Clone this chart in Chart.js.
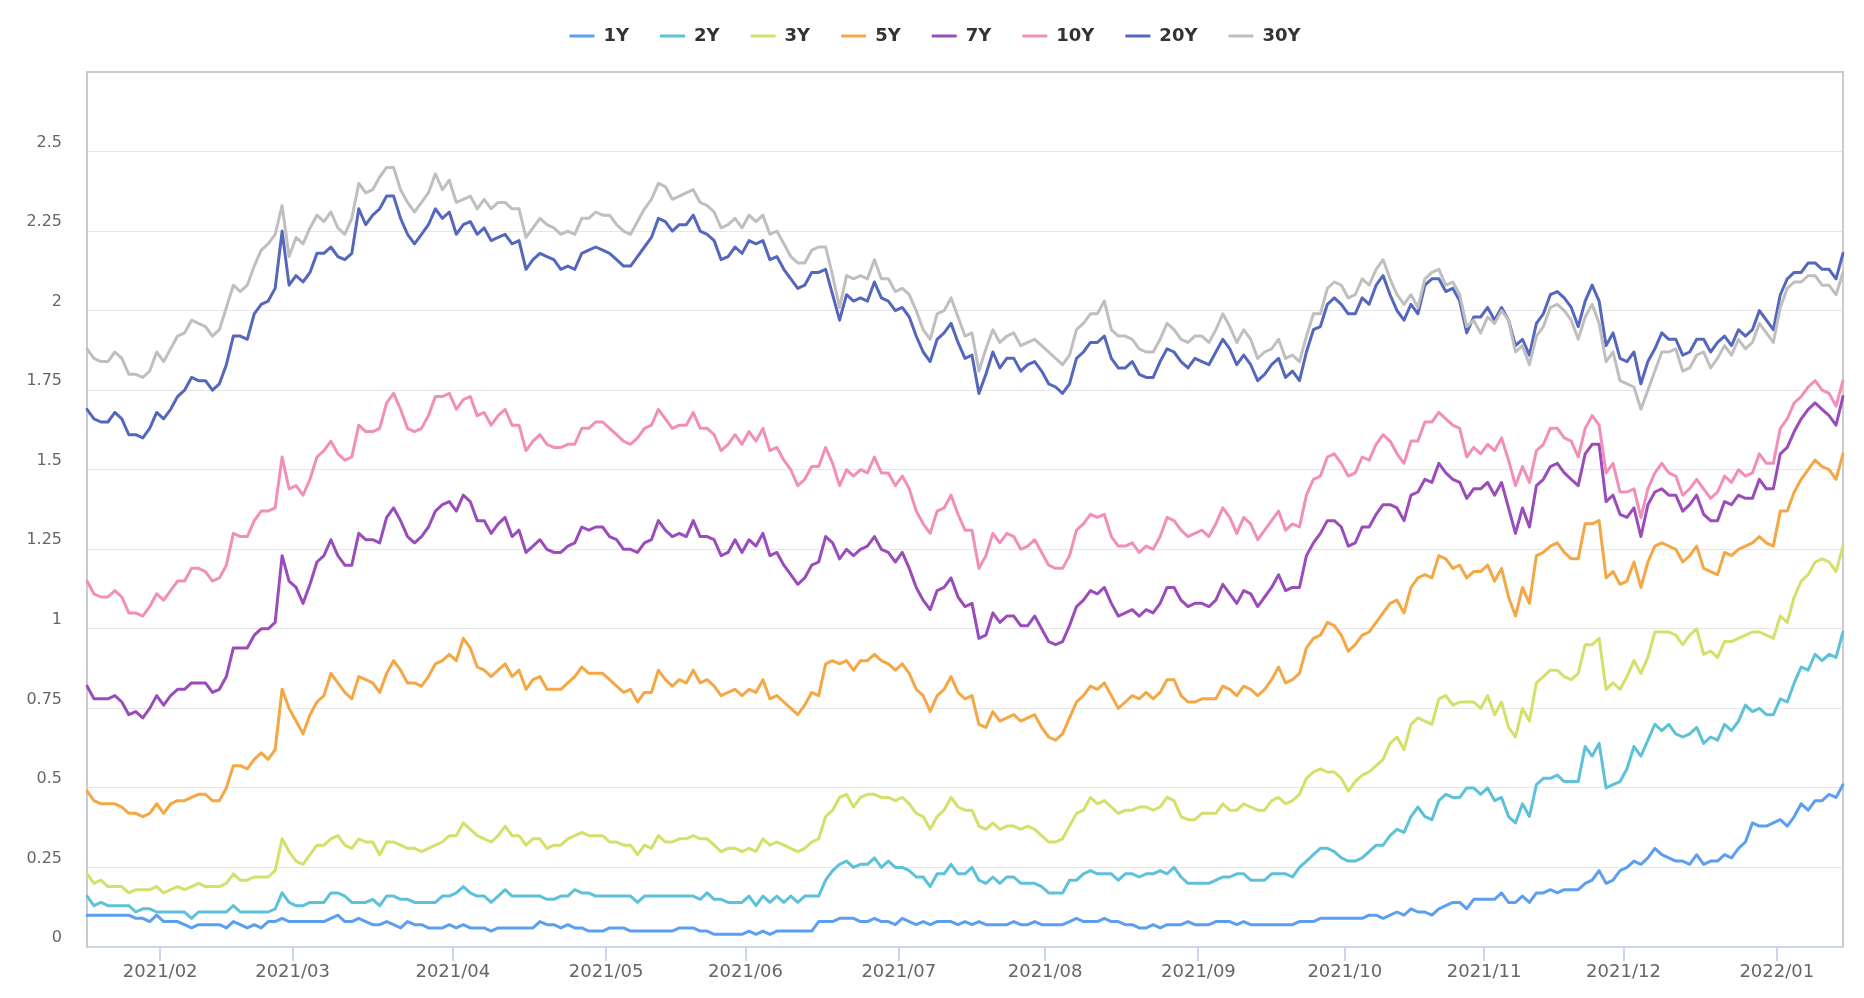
<!DOCTYPE html>
<html>
<head>
<meta charset="utf-8">
<title>Treasury yields</title>
<script src="https://cdn.jsdelivr.net/npm/chart.js@4.4.1/dist/chart.umd.min.js"></script>
<style>
    html, body { margin: 0; padding: 0; background: #ffffff; }
    canvas { display: block; }
</style>
</head>
<body>
<canvas id="yieldChart" width="1864" height="998"></canvas>
<script>
// trading days shown on the x axis (bond market calendar)
const firstDay = '2021-01-14';
const lastDay = '2022-01-14';
const marketHolidays = ['2021-01-18', '2021-02-15', '2021-05-31', '2021-07-05', '2021-09-06',
    '2021-10-11', '2021-11-11', '2021-11-25', '2021-12-24'];

const tenors = ['1Y', '2Y', '3Y', '5Y', '7Y', '10Y', '20Y', '30Y'];
const tenorColors = ['#5c9ff0', '#5cc1d9', '#d5e06a', '#f4a744', '#9b4cbb', '#f28fb9', '#5567bd', '#bfbfbf'];

const yields1Y = [
    0.10,0.10,0.10,0.10,0.10,0.10,0.10,0.09,0.09,0.08,
    0.10,0.08,0.08,0.08,0.07,0.06,0.07,0.07,0.07,0.07,
    0.06,0.08,0.07,0.06,0.07,0.06,0.08,0.08,0.09,0.08,
    0.08,0.08,0.08,0.08,0.08,0.09,0.10,0.08,0.08,0.09,
    0.08,0.07,0.07,0.08,0.07,0.06,0.08,0.07,0.07,0.06,
    0.06,0.06,0.07,0.06,0.07,0.06,0.06,0.06,0.05,0.06,
    0.06,0.06,0.06,0.06,0.06,0.08,0.07,0.07,0.06,0.07,
    0.06,0.06,0.05,0.05,0.05,0.06,0.06,0.06,0.05,0.05,
    0.05,0.05,0.05,0.05,0.05,0.06,0.06,0.06,0.05,0.05,
    0.04,0.04,0.04,0.04,0.04,0.05,0.04,0.05,0.04,0.05,
    0.05,0.05,0.05,0.05,0.05,0.08,0.08,0.08,0.09,0.09,
    0.09,0.08,0.08,0.09,0.08,0.08,0.07,0.09,0.08,0.07,
    0.08,0.07,0.08,0.08,0.08,0.07,0.08,0.07,0.08,0.07,
    0.07,0.07,0.07,0.08,0.07,0.07,0.08,0.07,0.07,0.07,
    0.07,0.08,0.09,0.08,0.08,0.08,0.09,0.08,0.08,0.07,
    0.07,0.06,0.06,0.07,0.06,0.07,0.07,0.07,0.08,0.07,
    0.07,0.07,0.08,0.08,0.08,0.07,0.08,0.07,0.07,0.07,
    0.07,0.07,0.07,0.07,0.08,0.08,0.08,0.09,0.09,0.09,
    0.09,0.09,0.09,0.09,0.10,0.10,0.09,0.10,0.11,0.10,
    0.12,0.11,0.11,0.10,0.12,0.13,0.14,0.14,0.12,0.15,
    0.15,0.15,0.15,0.17,0.14,0.14,0.16,0.14,0.17,0.17,
    0.18,0.17,0.18,0.18,0.18,0.20,0.21,0.24,0.20,0.21,
    0.24,0.25,0.27,0.26,0.28,0.31,0.29,0.28,0.27,0.27,
    0.26,0.29,0.26,0.27,0.27,0.29,0.28,0.31,0.33,0.39,
    0.38,0.38,0.39,0.40,0.38,0.41,0.45,0.43,0.46,0.46,
    0.48,0.47,0.51
];

const yields2Y = [
    0.16,0.13,0.14,0.13,0.13,0.13,0.13,0.11,0.12,0.12,
    0.11,0.11,0.11,0.11,0.11,0.09,0.11,0.11,0.11,0.11,
    0.11,0.13,0.11,0.11,0.11,0.11,0.11,0.12,0.17,0.14,
    0.13,0.13,0.14,0.14,0.14,0.17,0.17,0.16,0.14,0.14,
    0.14,0.15,0.13,0.16,0.16,0.15,0.15,0.14,0.14,0.14,
    0.14,0.16,0.16,0.17,0.19,0.17,0.16,0.16,0.14,0.16,
    0.18,0.16,0.16,0.16,0.16,0.16,0.15,0.15,0.16,0.16,
    0.18,0.17,0.17,0.16,0.16,0.16,0.16,0.16,0.16,0.14,
    0.16,0.16,0.16,0.16,0.16,0.16,0.16,0.16,0.15,0.17,
    0.15,0.15,0.14,0.14,0.14,0.16,0.13,0.16,0.14,0.16,
    0.14,0.16,0.14,0.16,0.16,0.16,0.21,0.24,0.26,0.27,
    0.25,0.26,0.26,0.28,0.25,0.27,0.25,0.25,0.24,0.22,
    0.22,0.19,0.23,0.23,0.26,0.23,0.23,0.25,0.21,0.20,
    0.22,0.20,0.22,0.22,0.20,0.20,0.20,0.19,0.17,0.17,
    0.17,0.21,0.21,0.23,0.24,0.23,0.23,0.23,0.21,0.23,
    0.23,0.22,0.23,0.23,0.24,0.23,0.25,0.22,0.20,0.20,
    0.20,0.20,0.21,0.22,0.22,0.23,0.23,0.21,0.21,0.21,
    0.23,0.23,0.23,0.22,0.25,0.27,0.29,0.31,0.31,0.30,
    0.28,0.27,0.27,0.28,0.30,0.32,0.32,0.35,0.37,0.36,
    0.41,0.44,0.41,0.40,0.46,0.48,0.47,0.47,0.50,0.50,
    0.48,0.50,0.46,0.47,0.41,0.39,0.45,0.41,0.51,0.53,
    0.53,0.54,0.52,0.52,0.52,0.63,0.60,0.64,0.50,0.51,
    0.52,0.56,0.63,0.60,0.65,0.70,0.68,0.70,0.67,0.66,
    0.67,0.69,0.64,0.66,0.65,0.70,0.68,0.71,0.76,0.74,
    0.75,0.73,0.73,0.78,0.77,0.83,0.88,0.87,0.92,0.90,
    0.92,0.91,0.99
];

const yields3Y = [
    0.23,0.20,0.21,0.19,0.19,0.19,0.17,0.18,0.18,0.18,
    0.19,0.17,0.18,0.19,0.18,0.19,0.20,0.19,0.19,0.19,
    0.20,0.23,0.21,0.21,0.22,0.22,0.22,0.24,0.34,0.30,
    0.27,0.26,0.29,0.32,0.32,0.34,0.35,0.32,0.31,0.34,
    0.33,0.33,0.29,0.33,0.33,0.32,0.31,0.31,0.30,0.31,
    0.32,0.33,0.35,0.35,0.39,0.37,0.35,0.34,0.33,0.35,
    0.38,0.35,0.35,0.32,0.34,0.34,0.31,0.32,0.32,0.34,
    0.35,0.36,0.35,0.35,0.35,0.33,0.33,0.32,0.32,0.29,
    0.32,0.31,0.35,0.33,0.33,0.34,0.34,0.35,0.34,0.34,
    0.32,0.30,0.31,0.31,0.30,0.31,0.30,0.34,0.32,0.33,
    0.32,0.31,0.30,0.31,0.33,0.34,0.41,0.43,0.47,0.48,
    0.44,0.47,0.48,0.48,0.47,0.47,0.46,0.47,0.45,0.42,
    0.41,0.37,0.41,0.43,0.47,0.44,0.43,0.43,0.38,0.37,
    0.39,0.37,0.38,0.38,0.37,0.38,0.37,0.35,0.33,0.33,
    0.34,0.38,0.42,0.43,0.47,0.45,0.46,0.44,0.42,0.43,
    0.43,0.44,0.44,0.43,0.44,0.47,0.46,0.41,0.40,0.40,
    0.42,0.42,0.42,0.45,0.43,0.43,0.45,0.44,0.43,0.43,
    0.46,0.47,0.45,0.46,0.48,0.53,0.55,0.56,0.55,0.55,
    0.53,0.49,0.52,0.54,0.55,0.57,0.59,0.64,0.66,0.62,
    0.70,0.72,0.71,0.70,0.78,0.79,0.76,0.77,0.77,0.77,
    0.75,0.79,0.73,0.77,0.69,0.66,0.75,0.71,0.83,0.85,
    0.87,0.87,0.85,0.84,0.86,0.95,0.95,0.97,0.81,0.83,
    0.81,0.85,0.90,0.86,0.91,0.99,0.99,0.99,0.98,0.95,
    0.98,1.00,0.92,0.93,0.91,0.96,0.96,0.97,0.98,0.99,
    0.99,0.98,0.97,1.04,1.02,1.10,1.15,1.17,1.21,1.22,
    1.21,1.18,1.26
];

const yields5Y = [
    0.49,0.46,0.45,0.45,0.45,0.44,0.42,0.42,0.41,0.42,
    0.45,0.42,0.45,0.46,0.46,0.47,0.48,0.48,0.46,0.46,
    0.50,0.57,0.57,0.56,0.59,0.61,0.59,0.62,0.81,0.75,
    0.71,0.67,0.73,0.77,0.79,0.86,0.83,0.80,0.78,0.85,
    0.84,0.83,0.80,0.86,0.90,0.87,0.83,0.83,0.82,0.85,
    0.89,0.90,0.92,0.90,0.97,0.94,0.88,0.87,0.85,0.87,
    0.89,0.85,0.87,0.81,0.84,0.85,0.81,0.81,0.81,0.83,
    0.85,0.88,0.86,0.86,0.86,0.84,0.82,0.80,0.81,0.77,
    0.80,0.80,0.87,0.84,0.82,0.84,0.83,0.87,0.83,0.84,
    0.82,0.79,0.80,0.81,0.79,0.81,0.80,0.84,0.78,0.79,
    0.77,0.75,0.73,0.76,0.80,0.79,0.89,0.90,0.89,0.90,
    0.87,0.90,0.90,0.92,0.90,0.89,0.87,0.89,0.86,0.81,
    0.79,0.74,0.79,0.81,0.85,0.80,0.78,0.79,0.70,0.69,
    0.74,0.71,0.72,0.73,0.71,0.72,0.73,0.69,0.66,0.65,
    0.67,0.72,0.77,0.79,0.82,0.81,0.83,0.79,0.75,0.77,
    0.79,0.78,0.80,0.78,0.80,0.84,0.84,0.79,0.77,0.77,
    0.78,0.78,0.78,0.82,0.81,0.79,0.82,0.81,0.79,0.81,
    0.84,0.88,0.83,0.84,0.86,0.94,0.97,0.98,1.02,1.01,
    0.98,0.93,0.95,0.98,0.99,1.02,1.05,1.08,1.09,1.05,
    1.13,1.16,1.17,1.16,1.23,1.22,1.19,1.20,1.16,1.18,
    1.18,1.20,1.15,1.19,1.10,1.04,1.13,1.08,1.23,1.24,
    1.26,1.27,1.24,1.22,1.22,1.33,1.33,1.34,1.16,1.18,
    1.14,1.15,1.21,1.13,1.21,1.26,1.27,1.26,1.25,1.21,
    1.23,1.26,1.19,1.18,1.17,1.24,1.23,1.25,1.26,1.27,
    1.29,1.27,1.26,1.37,1.37,1.43,1.47,1.50,1.53,1.51,
    1.50,1.47,1.55
];

const yields7Y = [
    0.82,0.78,0.78,0.78,0.79,0.77,0.73,0.74,0.72,0.75,
    0.79,0.76,0.79,0.81,0.81,0.83,0.83,0.83,0.80,0.81,
    0.85,0.94,0.94,0.94,0.98,1.00,1.00,1.02,1.23,1.15,
    1.13,1.08,1.14,1.21,1.23,1.28,1.23,1.20,1.20,1.30,
    1.28,1.28,1.27,1.35,1.38,1.34,1.29,1.27,1.29,1.32,
    1.37,1.39,1.40,1.37,1.42,1.40,1.34,1.34,1.30,1.33,
    1.35,1.29,1.31,1.24,1.26,1.28,1.25,1.24,1.24,1.26,
    1.27,1.32,1.31,1.32,1.32,1.29,1.28,1.25,1.25,1.24,
    1.27,1.28,1.34,1.31,1.29,1.30,1.29,1.34,1.29,1.29,
    1.28,1.23,1.24,1.28,1.24,1.28,1.26,1.30,1.23,1.24,
    1.20,1.17,1.14,1.16,1.20,1.21,1.29,1.27,1.22,1.25,
    1.23,1.25,1.26,1.29,1.25,1.24,1.21,1.24,1.19,1.13,
    1.09,1.06,1.12,1.13,1.16,1.10,1.07,1.08,0.97,0.98,
    1.05,1.02,1.04,1.04,1.01,1.01,1.04,1.00,0.96,0.95,
    0.96,1.01,1.07,1.09,1.12,1.11,1.13,1.08,1.04,1.05,
    1.06,1.04,1.06,1.05,1.08,1.13,1.13,1.09,1.07,1.08,
    1.08,1.07,1.09,1.14,1.11,1.08,1.12,1.11,1.07,1.10,
    1.13,1.17,1.12,1.13,1.13,1.23,1.27,1.30,1.34,1.34,
    1.32,1.26,1.27,1.32,1.32,1.36,1.39,1.39,1.38,1.34,
    1.42,1.43,1.47,1.46,1.52,1.49,1.47,1.46,1.41,1.44,
    1.44,1.46,1.42,1.46,1.38,1.30,1.38,1.32,1.45,1.47,
    1.51,1.52,1.49,1.47,1.45,1.55,1.58,1.58,1.40,1.42,
    1.36,1.35,1.38,1.29,1.39,1.43,1.44,1.42,1.42,1.37,
    1.39,1.42,1.36,1.34,1.34,1.40,1.39,1.42,1.41,1.41,
    1.47,1.44,1.44,1.55,1.57,1.62,1.66,1.69,1.71,1.69,
    1.67,1.64,1.73
];

const yields10Y = [
    1.15,1.11,1.10,1.10,1.12,1.10,1.05,1.05,1.04,1.07,
    1.11,1.09,1.12,1.15,1.15,1.19,1.19,1.18,1.15,1.16,
    1.20,1.30,1.29,1.29,1.34,1.37,1.37,1.38,1.54,1.44,
    1.45,1.42,1.47,1.54,1.56,1.59,1.55,1.53,1.54,1.64,
    1.62,1.62,1.63,1.71,1.74,1.69,1.63,1.62,1.63,1.67,
    1.73,1.73,1.74,1.69,1.72,1.73,1.67,1.68,1.64,1.67,
    1.69,1.64,1.64,1.56,1.59,1.61,1.58,1.57,1.57,1.58,
    1.58,1.63,1.63,1.65,1.65,1.63,1.61,1.59,1.58,1.60,
    1.63,1.64,1.69,1.66,1.63,1.64,1.64,1.68,1.63,1.63,
    1.61,1.56,1.58,1.61,1.58,1.62,1.59,1.63,1.56,1.57,
    1.53,1.50,1.45,1.47,1.51,1.51,1.57,1.52,1.45,1.50,
    1.48,1.50,1.49,1.54,1.49,1.49,1.45,1.48,1.44,1.37,
    1.33,1.30,1.37,1.38,1.42,1.36,1.31,1.31,1.19,1.23,
    1.30,1.27,1.30,1.29,1.25,1.26,1.28,1.24,1.20,1.19,
    1.19,1.23,1.31,1.33,1.36,1.35,1.36,1.29,1.26,1.26,
    1.27,1.24,1.26,1.25,1.29,1.35,1.34,1.31,1.29,1.30,
    1.31,1.29,1.33,1.38,1.35,1.30,1.35,1.33,1.28,1.31,
    1.34,1.37,1.31,1.33,1.32,1.42,1.47,1.48,1.54,1.55,
    1.52,1.48,1.49,1.54,1.53,1.58,1.61,1.59,1.55,1.52,
    1.59,1.59,1.65,1.65,1.68,1.66,1.64,1.63,1.54,1.57,
    1.55,1.58,1.56,1.60,1.53,1.45,1.51,1.46,1.56,1.58,
    1.63,1.63,1.60,1.59,1.54,1.63,1.67,1.64,1.49,1.52,
    1.43,1.43,1.44,1.35,1.44,1.49,1.52,1.49,1.48,1.42,
    1.44,1.47,1.44,1.41,1.43,1.48,1.46,1.50,1.48,1.49,
    1.55,1.52,1.52,1.63,1.66,1.71,1.73,1.76,1.78,1.75,
    1.74,1.70,1.78
];

const yields20Y = [
    1.69,1.66,1.65,1.65,1.68,1.66,1.61,1.61,1.60,1.63,
    1.68,1.66,1.69,1.73,1.75,1.79,1.78,1.78,1.75,1.77,
    1.83,1.92,1.92,1.91,1.99,2.02,2.03,2.07,2.25,2.08,
    2.11,2.09,2.12,2.18,2.18,2.20,2.17,2.16,2.18,2.32,
    2.27,2.30,2.32,2.36,2.36,2.29,2.24,2.21,2.24,2.27,
    2.32,2.29,2.31,2.24,2.27,2.28,2.24,2.26,2.22,2.23,
    2.24,2.21,2.22,2.13,2.16,2.18,2.17,2.16,2.13,2.14,
    2.13,2.18,2.19,2.20,2.19,2.18,2.16,2.14,2.14,2.17,
    2.20,2.23,2.29,2.28,2.25,2.27,2.27,2.30,2.25,2.24,
    2.22,2.16,2.17,2.20,2.18,2.22,2.21,2.22,2.16,2.17,
    2.13,2.10,2.07,2.08,2.12,2.12,2.13,2.05,1.97,2.05,
    2.03,2.04,2.03,2.09,2.04,2.03,2.00,2.01,1.98,1.92,
    1.87,1.84,1.91,1.93,1.96,1.90,1.85,1.86,1.74,1.80,
    1.87,1.82,1.85,1.85,1.81,1.83,1.84,1.81,1.77,1.76,
    1.74,1.77,1.85,1.87,1.90,1.90,1.92,1.85,1.82,1.82,
    1.84,1.80,1.79,1.79,1.84,1.88,1.87,1.84,1.82,1.85,
    1.84,1.83,1.87,1.91,1.88,1.83,1.86,1.83,1.78,1.80,
    1.83,1.85,1.79,1.81,1.78,1.87,1.94,1.95,2.02,2.04,
    2.02,1.99,1.99,2.04,2.02,2.08,2.11,2.05,2.00,1.97,
    2.02,1.99,2.08,2.10,2.10,2.06,2.07,2.03,1.93,1.98,
    1.98,2.01,1.97,2.01,1.97,1.89,1.91,1.86,1.96,1.99,
    2.05,2.06,2.04,2.01,1.95,2.03,2.08,2.03,1.89,1.93,
    1.85,1.84,1.87,1.77,1.84,1.88,1.93,1.91,1.91,1.86,
    1.87,1.91,1.91,1.87,1.90,1.92,1.89,1.94,1.92,1.94,
    2.00,1.97,1.94,2.05,2.10,2.12,2.12,2.15,2.15,2.13,
    2.13,2.10,2.18
];

const yields30Y = [
    1.88,1.85,1.84,1.84,1.87,1.85,1.80,1.80,1.79,1.81,
    1.87,1.84,1.88,1.92,1.93,1.97,1.96,1.95,1.92,1.94,
    2.01,2.08,2.06,2.08,2.14,2.19,2.21,2.24,2.33,2.17,
    2.23,2.21,2.26,2.30,2.28,2.31,2.26,2.24,2.29,2.40,
    2.37,2.38,2.42,2.45,2.45,2.38,2.34,2.31,2.34,2.37,
    2.43,2.38,2.41,2.34,2.35,2.36,2.32,2.35,2.32,2.34,
    2.34,2.32,2.32,2.23,2.26,2.29,2.27,2.26,2.24,2.25,
    2.24,2.29,2.29,2.31,2.30,2.30,2.27,2.25,2.24,2.28,
    2.32,2.35,2.40,2.39,2.35,2.36,2.37,2.38,2.34,2.33,
    2.31,2.26,2.27,2.29,2.26,2.30,2.28,2.30,2.24,2.25,
    2.21,2.17,2.15,2.15,2.19,2.20,2.20,2.11,2.01,2.11,
    2.10,2.11,2.10,2.16,2.10,2.10,2.06,2.07,2.05,2.00,
    1.94,1.91,1.99,2.00,2.04,1.98,1.92,1.93,1.81,1.88,
    1.94,1.90,1.92,1.93,1.89,1.90,1.91,1.89,1.87,1.85,
    1.83,1.86,1.94,1.96,1.99,1.99,2.03,1.94,1.92,1.92,
    1.91,1.88,1.87,1.87,1.91,1.96,1.94,1.91,1.90,1.92,
    1.92,1.90,1.94,1.99,1.95,1.90,1.94,1.91,1.85,1.87,
    1.88,1.91,1.85,1.86,1.84,1.92,1.99,1.99,2.07,2.09,
    2.08,2.04,2.05,2.10,2.08,2.13,2.16,2.10,2.05,2.02,
    2.05,2.01,2.10,2.12,2.13,2.08,2.09,2.05,1.95,1.97,
    1.93,1.98,1.96,2.00,1.97,1.87,1.89,1.83,1.92,1.95,
    2.01,2.02,2.00,1.97,1.91,1.98,2.02,1.96,1.84,1.87,
    1.78,1.77,1.76,1.69,1.75,1.81,1.87,1.87,1.88,1.81,
    1.82,1.86,1.87,1.82,1.85,1.89,1.86,1.91,1.88,1.90,
    1.96,1.93,1.90,2.01,2.07,2.09,2.09,2.11,2.11,2.08,
    2.08,2.05,2.12
];

const seriesValues = [yields1Y, yields2Y, yields3Y, yields5Y, yields7Y, yields10Y, yields20Y, yields30Y];

function tradingDays(from, to, closed) {
    const days = [];
    const day = new Date(from + 'T00:00:00Z');
    const end = new Date(to + 'T00:00:00Z');
    while (day <= end) {
        const iso = day.toISOString().slice(0, 10);
        const weekday = day.getUTCDay();
        if (weekday !== 0 && weekday !== 6 && !closed.includes(iso)) {
            days.push(iso);
        }
        day.setUTCDate(day.getUTCDate() + 1);
    }
    return days;
}

const dates = tradingDays(firstDay, lastDay, marketHolidays);

// index of the first trading day of every month after the first one
const monthStarts = dates
    .map((d, i) => (i > 0 && d.slice(5, 7) !== dates[i - 1].slice(5, 7) ? i : -1))
    .filter(i => i >= 0);

const fontFamily = "'DejaVu Sans', 'Liberation Sans', sans-serif";
Chart.defaults.font.family = fontFamily;

// draws the light frame round the plot (bottom edge is the x axis line)
const plotFrame = {
    id: 'plotFrame',
    beforeDatasetsDraw(chart) {
        const { ctx, chartArea: { left, top, right, bottom } } = chart;
        ctx.save();
        ctx.strokeStyle = '#cccccc';
        ctx.lineWidth = 2;
        ctx.beginPath();
        ctx.moveTo(left, bottom);
        ctx.lineTo(left, top);
        ctx.lineTo(right, top);
        ctx.lineTo(right, bottom);
        ctx.stroke();
        ctx.restore();
    }
};

// keeps the legend row compact while labels.padding spaces the items
const legendHeight = {
    id: 'legendHeight',
    beforeInit(chart) {
        const fit = chart.legend.fit;
        chart.legend.fit = function () {
            fit.call(this);
            this.height = 76;
        };
    }
};

const datasets = tenors.map((tenor, i) => ({
    label: tenor,
    data: seriesValues[i],
    borderColor: tenorColors[i],
    backgroundColor: tenorColors[i],
    pointBorderColor: tenorColors[i],
    borderWidth: 3,
    pointBorderWidth: 3,
    pointRadius: 0,
    pointHoverRadius: 0,
    borderJoinStyle: 'round',
    borderCapStyle: 'round',
    tension: 0,
    fill: false,
    order: tenors.length - i
}));

const ctx = document.getElementById('yieldChart').getContext('2d');

new Chart(ctx, {
    type: 'line',
    data: {
        labels: dates,
        datasets: datasets
    },
    options: {
        responsive: false,
        animation: false,
        devicePixelRatio: 1,
        layout: {
            padding: { top: -4, right: 21, bottom: 0, left: 27 }
        },
        plugins: {
            legend: {
                position: 'top',
                labels: {
                    usePointStyle: true,
                    pointStyle: 'line',
                    pointStyleWidth: 25,
                    padding: 31,
                    color: '#333333',
                    font: { family: fontFamily, size: 18, weight: 'bold' },
                    sort: (a, b) => a.datasetIndex - b.datasetIndex
                }
            },
            tooltip: { enabled: false }
        },
        scales: {
            x: {
                type: 'category',
                afterBuildTicks: (scale) => {
                    scale.ticks = monthStarts.map(i => ({ value: i - 0.5 }));
                },
                afterFit: (scale) => {
                    scale.height = 51;
                },
                ticks: {
                    autoSkip: false,
                    maxRotation: 0,
                    minRotation: 0,
                    padding: 1,
                    color: '#666666',
                    font: { family: fontFamily, size: 18 },
                    callback: (value) => dates[Math.round(value + 0.5)].slice(0, 7).replace('-', '/')
                },
                grid: {
                    drawOnChartArea: false,
                    drawTicks: true,
                    tickLength: 14,
                    color: '#ccd6eb',
                    lineWidth: 2
                },
                border: { display: true, color: '#ccd6eb', width: 2 }
            },
            y: {
                min: 0,
                max: 2.75,
                afterFit: (scale) => {
                    scale.width = 60;
                },
                ticks: {
                    stepSize: 0.25,
                    padding: 25,
                    labelOffset: -9,
                    color: '#666666',
                    font: { family: fontFamily, size: 16 },
                    callback: (value) => (value > 2.7 ? '' : String(Math.round(value * 100) / 100))
                },
                grid: { color: '#e6e6e6', lineWidth: 1, drawTicks: false },
                border: { display: false }
            }
        }
    },
    plugins: [plotFrame, legendHeight]
});
</script>
</body>
</html>
